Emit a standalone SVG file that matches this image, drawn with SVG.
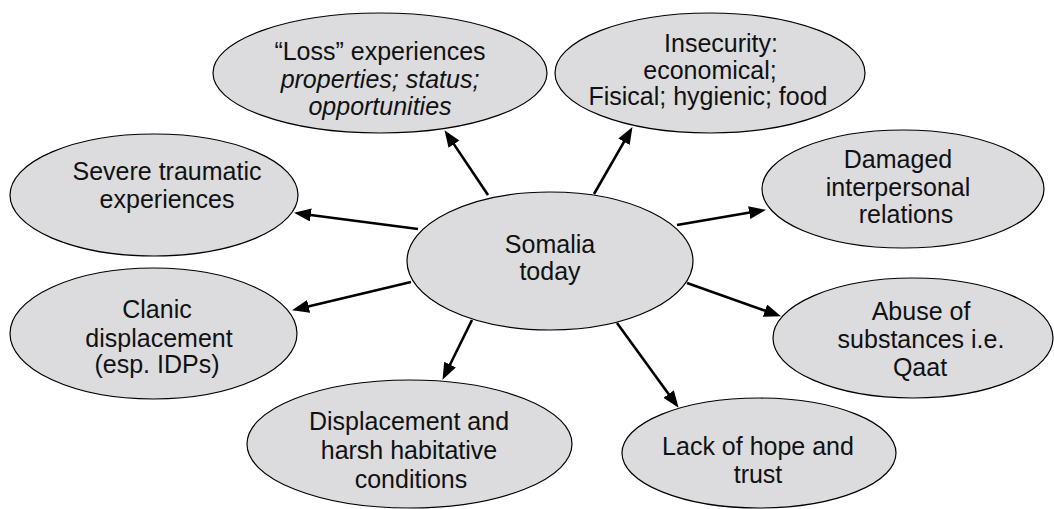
<svg xmlns="http://www.w3.org/2000/svg" width="1054" height="509" viewBox="0 0 1054 509">
<style>
.n ellipse{fill:#dcdcde;stroke:#000;stroke-width:1.2}
text{font-family:"Liberation Sans",Arial,sans-serif;font-size:25px;fill:#111;text-anchor:middle}
.i{font-style:italic}
.c line{stroke:#000;stroke-width:2.6;marker-end:url(#ah)}
</style>
<defs>
<marker id="ah" markerUnits="userSpaceOnUse" markerWidth="18" markerHeight="14" refX="8" refY="6.5" orient="auto">
<path d="M0,0 L17,6.5 L0,13 z" fill="#000"/>
</marker>
</defs>
<rect width="1054" height="509" fill="#fff"/>
<g id="loss" class="n"><ellipse cx="380" cy="73" rx="167" ry="60"/><text x="380" y="60">“Loss” experiences</text><text class="i" x="380" y="88">properties; status;</text><text class="i" x="380" y="115">opportunities</text></g>
<g id="insecurity" class="n"><ellipse cx="710" cy="73" rx="155" ry="60"/><text x="721" y="52">Insecurity:</text><text x="710" y="79">economical;</text><text x="708" y="105">Fisical; hygienic; food</text></g>
<g id="damaged" class="n"><ellipse cx="903" cy="189" rx="141" ry="59"/><text x="898" y="168">Damaged</text><text x="898" y="196">interpersonal</text><text x="906" y="223">relations</text></g>
<g id="severe" class="n"><ellipse cx="154" cy="195" rx="144" ry="61"/><text x="167" y="180">Severe traumatic</text><text x="167" y="208">experiences</text></g>
<g id="clanic" class="n"><ellipse cx="153.5" cy="333.5" rx="143.5" ry="65.5"/><text x="157" y="318">Clanic</text><text x="159" y="347">displacement</text><text x="157" y="373">(esp. IDPs)</text></g>
<g id="somalia" class="n"><ellipse cx="550" cy="261" rx="143" ry="69"/><text x="550" y="253">Somalia</text><text x="550" y="280">today</text></g>
<g id="displacement" class="n"><ellipse cx="409.5" cy="444" rx="162.5" ry="64"/><text x="409" y="430">Displacement and</text><text x="409" y="459">harsh habitative</text><text x="411" y="488">conditions</text></g>
<g id="abuse" class="n"><ellipse cx="913" cy="338" rx="140" ry="60"/><text x="921" y="320">Abuse of</text><text x="921" y="348">substances i.e.</text><text x="920" y="376">Qaat</text></g>
<g id="lack" class="n"><ellipse cx="759" cy="453" rx="137" ry="55"/><text x="758" y="455">Lack of hope and</text><text x="758" y="483">trust</text></g>
<g id="connectors" class="c">
<line x1="488" y1="195" x2="449.5" y2="137.6"/>
<line x1="594" y1="194" x2="628" y2="134.9"/>
<line x1="677" y1="225" x2="757.1" y2="211.3"/>
<line x1="418" y1="229" x2="302.9" y2="214"/>
<line x1="411" y1="282" x2="300.8" y2="308.2"/>
<line x1="472" y1="320" x2="446.5" y2="371.8"/>
<line x1="617" y1="323" x2="673.3" y2="400.5"/>
<line x1="687" y1="283" x2="772.5" y2="313.3"/>
</g>
</svg>
